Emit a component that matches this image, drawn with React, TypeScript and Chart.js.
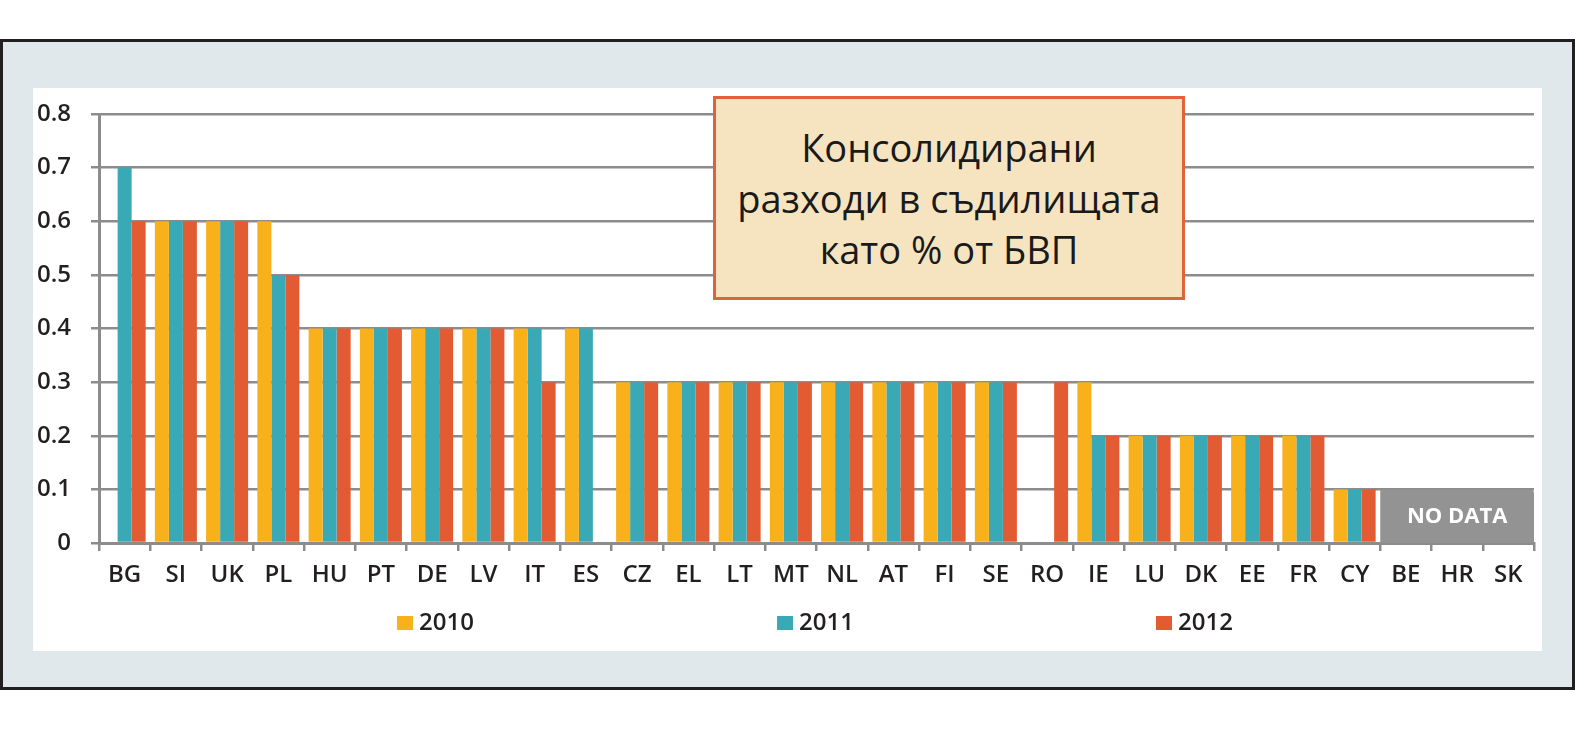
import React, { useEffect, useRef } from "react";
import { Chart, registerables } from "chart.js";

Chart.register(...registerables);

const categories = [
  "BG", "SI", "UK", "PL", "HU", "PT", "DE", "LV", "IT", "ES",
  "CZ", "EL", "LT", "MT", "NL", "AT", "FI", "SE", "RO", "IE",
  "LU", "DK", "EE", "FR", "CY", "BE", "HR", "SK",
];

const values2010 = [
  null, 0.6, 0.6, 0.6, 0.4, 0.4, 0.4, 0.4, 0.4, 0.4,
  0.3, 0.3, 0.3, 0.3, 0.3, 0.3, 0.3, 0.3, null, 0.3,
  0.2, 0.2, 0.2, 0.2, 0.1, null, null, null,
];
const values2011 = [
  0.7, 0.6, 0.6, 0.5, 0.4, 0.4, 0.4, 0.4, 0.4, 0.4,
  0.3, 0.3, 0.3, 0.3, 0.3, 0.3, 0.3, 0.3, null, 0.2,
  0.2, 0.2, 0.2, 0.2, 0.1, null, null, null,
];
const values2012 = [
  0.6, 0.6, 0.6, 0.5, 0.4, 0.4, 0.4, 0.4, 0.3, null,
  0.3, 0.3, 0.3, 0.3, 0.3, 0.3, 0.3, 0.3, 0.3, 0.2,
  0.2, 0.2, 0.2, 0.2, 0.1, null, null, null,
];

const seriesLabels = ["2010", "2011", "2012"];
const seriesColors = ["#F8B01B", "#39A9B6", "#E25B32"];

const yTickLabels = ["0", "0.1", "0.2", "0.3", "0.4", "0.5", "0.6", "0.7", "0.8"];

const noDataCategories = ["BE", "HR", "SK"];
const noDataLevel = 0.1;
const noDataText = "NO DATA";

const titleLines = ["Консолидирани", "разходи в съдилищата", "като % от БВП"];

const legendFractions = [0.2077, 0.4725, 0.7366];

const GRID = "#8c8c8c";
const TEXT = "#231f20";
const FONT = "'Open Sans', 'DejaVu Sans', sans-serif";

const noDataPlugin = {
  id: "noData",
  afterDatasetsDraw(chart: any) {
    const x = chart.scales.x;
    const y = chart.scales.y;
    const i0 = categories.indexOf(noDataCategories[0]);
    const i1 = categories.indexOf(noDataCategories[noDataCategories.length - 1]);
    const half = (x.getPixelForValue(1) - x.getPixelForValue(0)) / 2;
    const left = x.getPixelForValue(i0) - half;
    const right = x.getPixelForValue(i1) + half;
    const top = y.getPixelForValue(noDataLevel);
    const bottom = y.getPixelForValue(0);
    const ctx = chart.ctx;
    ctx.save();
    ctx.fillStyle = "#939393";
    const r = 4;
    ctx.beginPath();
    ctx.moveTo(left, top);
    ctx.lineTo(right - r, top);
    ctx.quadraticCurveTo(right, top, right, top + r);
    ctx.lineTo(right, bottom);
    ctx.lineTo(left, bottom);
    ctx.closePath();
    ctx.fill();
    ctx.fillStyle = "#ffffff";
    ctx.font = `700 22px ${FONT}`;
    ctx.textAlign = "center";
    ctx.textBaseline = "middle";
    ctx.fillText(noDataText, (left + right) / 2, (top + bottom) / 2 + 1);
    ctx.restore();
  },
};

const legendPlugin = {
  id: "customLegend",
  afterDraw(chart: any) {
    const area = chart.chartArea;
    const ctx = chart.ctx;
    const yc = area.bottom + 80;
    ctx.save();
    seriesLabels.forEach((lab, i) => {
      const x0 = area.left + (area.right - area.left) * legendFractions[i];
      ctx.fillStyle = seriesColors[i];
      ctx.fillRect(x0, yc - 7, 16, 14);
      ctx.fillStyle = TEXT;
      ctx.font = `600 24px ${FONT}`;
      ctx.textAlign = "left";
      ctx.textBaseline = "middle";
      ctx.fillText(lab, x0 + 22, yc);
    });
    ctx.restore();
  },
};

export default function App() {
  const canvasRef = useRef<HTMLCanvasElement | null>(null);

  useEffect(() => {
    if (!canvasRef.current) return;
    const chart = new Chart(canvasRef.current, {
      type: "bar",
      data: {
        labels: categories,
        datasets: [values2010, values2011, values2012].map((d, i) => ({
          label: seriesLabels[i],
          data: d,
          backgroundColor: seriesColors[i],
          borderWidth: 0,
          categoryPercentage: 0.82,
          barPercentage: 1,
        })),
      },
      options: {
        animation: false,
        responsive: false,
        devicePixelRatio: 1,
        layout: { padding: { left: 0, right: 8, top: 26, bottom: 0 } },
        plugins: {
          legend: { display: false },
          tooltip: { enabled: false },
          title: { display: false },
        },
        scales: {
          x: {
            grid: {
              drawOnChartArea: false,
              drawTicks: true,
              tickLength: 8,
              color: GRID,
              lineWidth: 2.5,
            },
            border: { display: true, color: GRID, width: 3 },
            ticks: {
              color: TEXT,
              font: { family: FONT, size: 24, weight: "600" },
              padding: 10,
              maxRotation: 0,
              autoSkip: false,
            },
            afterFit: (s: any) => {
              s.height = 108;
              s.paddingLeft = 0;
              s.paddingRight = 0;
            },
          },
          y: {
            min: 0,
            max: 0.8,
            grid: {
              color: GRID,
              lineWidth: 2.5,
              tickLength: 8,
              drawTicks: true,
            },
            border: { display: true, color: GRID, width: 3 },
            ticks: {
              stepSize: 0.1,
              color: TEXT,
              font: { family: FONT, size: 24, weight: "600" },
              padding: 20,
              callback: (_v: any, idx: number) => yTickLabels[idx],
            },
            afterFit: (s: any) => {
              s.width = 66;
              s.paddingTop = 0;
              s.paddingBottom = 0;
            },
          },
        },
      },
      plugins: [noDataPlugin, legendPlugin],
    });
    return () => chart.destroy();
  }, []);

  return (
    <div style={{ position: "absolute", left: 0, top: 0, width: 1575, height: 741, background: "#ffffff" }}>
      <div
        style={{
          position: "absolute",
          left: 0,
          top: 39,
          width: 1575,
          height: 651,
          boxSizing: "border-box",
          border: "3px solid #231f20",
          background: "#e0e8eb",
        }}
      />
      <div style={{ position: "absolute", left: 33, top: 88, width: 1509, height: 563, background: "#ffffff" }}>
        <canvas ref={canvasRef} width={1509} height={563} style={{ width: 1509, height: 563, display: "block" }} />
      </div>
      <div
        style={{
          position: "absolute",
          left: 713,
          top: 96,
          width: 472,
          height: 204,
          boxSizing: "border-box",
          border: "3.5px solid #e0623a",
          background: "#f5e4bf",
          display: "flex",
          flexDirection: "column",
          justifyContent: "center",
          alignItems: "center",
          fontFamily: FONT,
          fontSize: 38,
          lineHeight: "51px",
          color: "#1a1a1a",
          textAlign: "center",
        }}
      >
        {titleLines.map((l, i) => (
          <div key={i} style={{ whiteSpace: "nowrap" }}>{l}</div>
        ))}
      </div>
    </div>
  );
}
